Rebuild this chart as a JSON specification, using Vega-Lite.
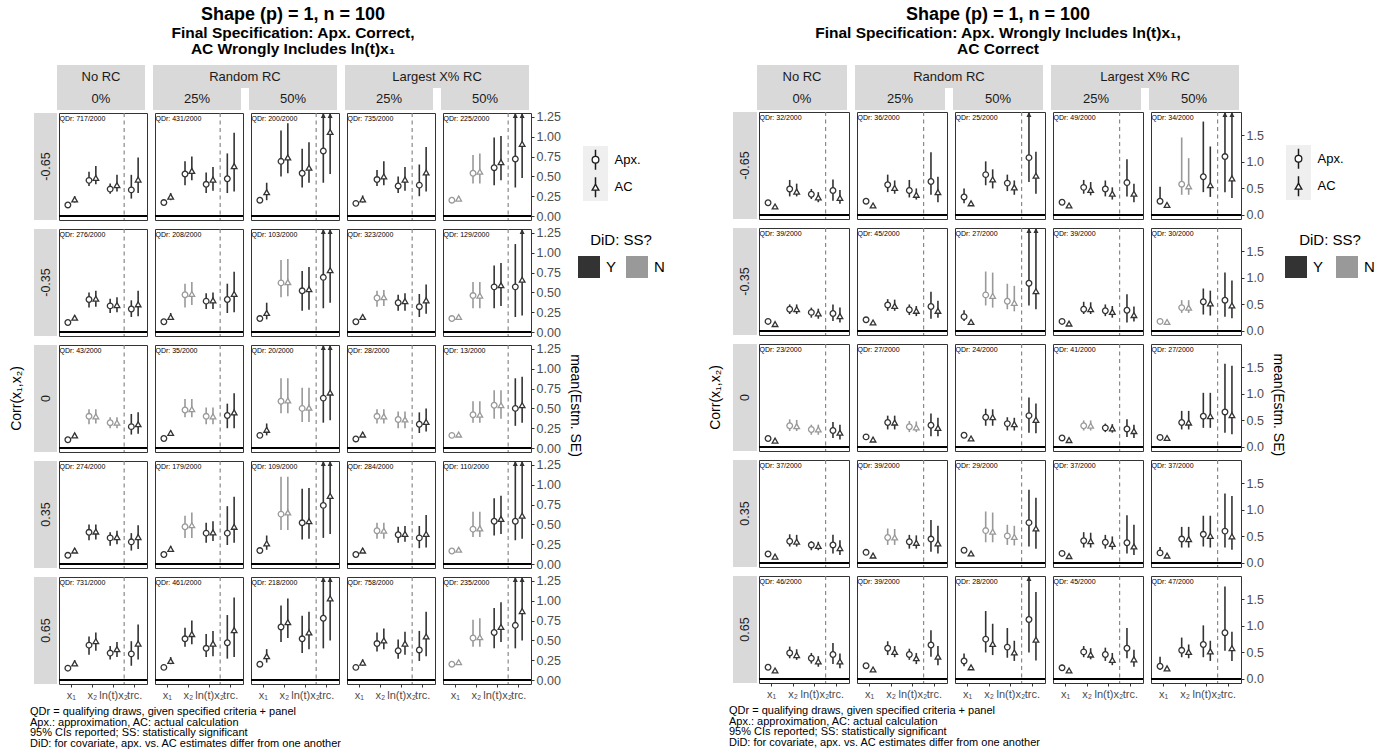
{
"$schema": "https://vega.github.io/schema/vega-lite/v6.json",
"padding": {"left": 9, "top": 5, "right": 2, "bottom": 2},
"background": "white",
"config": {
  "font": "Liberation Sans",
  "view": {"stroke": null},
  "title": {"font": "Liberation Sans", "color": "black", "subtitleFont": "Liberation Sans", "subtitleColor": "black"},
  "axis": {"labelFont": "Liberation Sans", "titleFont": "Liberation Sans"},
  "legend": {"labelFont": "Liberation Sans", "titleFont": "Liberation Sans", "padding": 0},
  "text": {"font": "Liberation Sans"}
},
"datasets": {
"L": [
{"r":"-0.65","c":"n0","v":"x1","e":"Apx.","m":0.14,"lo":0.12,"hi":0.16,"s":"Y","q":"QDr: 717/2000"},
{"r":"-0.65","c":"n0","v":"x1","e":"AC","m":0.21,"lo":0.17,"hi":0.25,"s":"Y"},
{"r":"-0.65","c":"n0","v":"x2","e":"Apx.","m":0.45,"lo":0.38,"hi":0.56,"s":"Y"},
{"r":"-0.65","c":"n0","v":"x2","e":"AC","m":0.48,"lo":0.40,"hi":0.63,"s":"Y"},
{"r":"-0.65","c":"n0","v":"ltx2","e":"Apx.","m":0.34,"lo":0.28,"hi":0.41,"s":"Y"},
{"r":"-0.65","c":"n0","v":"ltx2","e":"AC","m":0.39,"lo":0.31,"hi":0.52,"s":"Y"},
{"r":"-0.65","c":"n0","v":"trc","e":"Apx.","m":0.33,"lo":0.22,"hi":0.52,"s":"Y"},
{"r":"-0.65","c":"n0","v":"trc","e":"AC","m":0.46,"lo":0.29,"hi":0.74,"s":"Y"},
{"r":"-0.65","c":"r25","v":"x1","e":"Apx.","m":0.17,"lo":0.15,"hi":0.19,"s":"Y","q":"QDr: 431/2000"},
{"r":"-0.65","c":"r25","v":"x1","e":"AC","m":0.245,"lo":0.20,"hi":0.29,"s":"Y"},
{"r":"-0.65","c":"r25","v":"x2","e":"Apx.","m":0.53,"lo":0.39,"hi":0.69,"s":"Y"},
{"r":"-0.65","c":"r25","v":"x2","e":"AC","m":0.57,"lo":0.45,"hi":0.75,"s":"Y"},
{"r":"-0.65","c":"r25","v":"ltx2","e":"Apx.","m":0.40,"lo":0.29,"hi":0.55,"s":"Y"},
{"r":"-0.65","c":"r25","v":"ltx2","e":"AC","m":0.46,"lo":0.32,"hi":0.62,"s":"Y"},
{"r":"-0.65","c":"r25","v":"trc","e":"Apx.","m":0.47,"lo":0.29,"hi":0.79,"s":"Y"},
{"r":"-0.65","c":"r25","v":"trc","e":"AC","m":0.63,"lo":0.31,"hi":1.05,"s":"Y"},
{"r":"-0.65","c":"r50","v":"x1","e":"Apx.","m":0.20,"lo":0.17,"hi":0.23,"s":"Y","q":"QDr: 200/2000"},
{"r":"-0.65","c":"r50","v":"x1","e":"AC","m":0.30,"lo":0.20,"hi":0.42,"s":"Y"},
{"r":"-0.65","c":"r50","v":"x2","e":"Apx.","m":0.69,"lo":0.50,"hi":1.08,"s":"Y"},
{"r":"-0.65","c":"r50","v":"x2","e":"AC","m":0.74,"lo":0.54,"hi":1.17,"s":"Y"},
{"r":"-0.65","c":"r50","v":"ltx2","e":"Apx.","m":0.54,"lo":0.36,"hi":0.85,"s":"Y"},
{"r":"-0.65","c":"r50","v":"ltx2","e":"AC","m":0.61,"lo":0.42,"hi":0.93,"s":"Y"},
{"r":"-0.65","c":"r50","v":"trc","e":"Apx.","m":0.82,"lo":0.42,"hi":1.45,"s":"Y"},
{"r":"-0.65","c":"r50","v":"trc","e":"AC","m":1.06,"lo":0.53,"hi":1.45,"s":"Y"},
{"r":"-0.65","c":"l25","v":"x1","e":"Apx.","m":0.16,"lo":0.14,"hi":0.18,"s":"Y","q":"QDr: 735/2000"},
{"r":"-0.65","c":"l25","v":"x1","e":"AC","m":0.21,"lo":0.17,"hi":0.26,"s":"Y"},
{"r":"-0.65","c":"l25","v":"x2","e":"Apx.","m":0.46,"lo":0.38,"hi":0.58,"s":"Y"},
{"r":"-0.65","c":"l25","v":"x2","e":"AC","m":0.50,"lo":0.39,"hi":0.69,"s":"Y"},
{"r":"-0.65","c":"l25","v":"ltx2","e":"Apx.","m":0.38,"lo":0.29,"hi":0.50,"s":"Y"},
{"r":"-0.65","c":"l25","v":"ltx2","e":"AC","m":0.46,"lo":0.32,"hi":0.62,"s":"Y"},
{"r":"-0.65","c":"l25","v":"trc","e":"Apx.","m":0.39,"lo":0.25,"hi":0.65,"s":"Y"},
{"r":"-0.65","c":"l25","v":"trc","e":"AC","m":0.55,"lo":0.31,"hi":0.87,"s":"Y"},
{"r":"-0.65","c":"l50","v":"x1","e":"Apx.","m":0.20,"lo":0.18,"hi":0.22,"s":"N","q":"QDr: 225/2000"},
{"r":"-0.65","c":"l50","v":"x1","e":"AC","m":0.22,"lo":0.20,"hi":0.25,"s":"N"},
{"r":"-0.65","c":"l50","v":"x2","e":"Apx.","m":0.54,"lo":0.41,"hi":0.77,"s":"N"},
{"r":"-0.65","c":"l50","v":"x2","e":"AC","m":0.56,"lo":0.41,"hi":0.79,"s":"N"},
{"r":"-0.65","c":"l50","v":"ltx2","e":"Apx.","m":0.61,"lo":0.39,"hi":0.99,"s":"Y"},
{"r":"-0.65","c":"l50","v":"ltx2","e":"AC","m":0.68,"lo":0.45,"hi":1.01,"s":"Y"},
{"r":"-0.65","c":"l50","v":"trc","e":"Apx.","m":0.72,"lo":0.36,"hi":1.45,"s":"Y"},
{"r":"-0.65","c":"l50","v":"trc","e":"AC","m":0.91,"lo":0.48,"hi":1.45,"s":"Y"},
{"r":"-0.35","c":"n0","v":"x1","e":"Apx.","m":0.12,"lo":0.10,"hi":0.14,"s":"Y","q":"QDr: 276/2000"},
{"r":"-0.35","c":"n0","v":"x1","e":"AC","m":0.18,"lo":0.15,"hi":0.21,"s":"Y"},
{"r":"-0.35","c":"n0","v":"x2","e":"Apx.","m":0.41,"lo":0.31,"hi":0.50,"s":"Y"},
{"r":"-0.35","c":"n0","v":"x2","e":"AC","m":0.42,"lo":0.32,"hi":0.52,"s":"Y"},
{"r":"-0.35","c":"n0","v":"ltx2","e":"Apx.","m":0.33,"lo":0.24,"hi":0.42,"s":"Y"},
{"r":"-0.35","c":"n0","v":"ltx2","e":"AC","m":0.34,"lo":0.25,"hi":0.44,"s":"Y"},
{"r":"-0.35","c":"n0","v":"trc","e":"Apx.","m":0.29,"lo":0.19,"hi":0.40,"s":"Y"},
{"r":"-0.35","c":"n0","v":"trc","e":"AC","m":0.35,"lo":0.20,"hi":0.52,"s":"Y"},
{"r":"-0.35","c":"r25","v":"x1","e":"Apx.","m":0.13,"lo":0.11,"hi":0.15,"s":"Y","q":"QDr: 208/2000"},
{"r":"-0.35","c":"r25","v":"x1","e":"AC","m":0.19,"lo":0.16,"hi":0.24,"s":"Y"},
{"r":"-0.35","c":"r25","v":"x2","e":"Apx.","m":0.47,"lo":0.31,"hi":0.61,"s":"N"},
{"r":"-0.35","c":"r25","v":"x2","e":"AC","m":0.48,"lo":0.34,"hi":0.63,"s":"N"},
{"r":"-0.35","c":"r25","v":"ltx2","e":"Apx.","m":0.39,"lo":0.29,"hi":0.49,"s":"Y"},
{"r":"-0.35","c":"r25","v":"ltx2","e":"AC","m":0.40,"lo":0.29,"hi":0.50,"s":"Y"},
{"r":"-0.35","c":"r25","v":"trc","e":"Apx.","m":0.41,"lo":0.24,"hi":0.61,"s":"Y"},
{"r":"-0.35","c":"r25","v":"trc","e":"AC","m":0.48,"lo":0.25,"hi":0.76,"s":"Y"},
{"r":"-0.35","c":"r50","v":"x1","e":"Apx.","m":0.17,"lo":0.15,"hi":0.19,"s":"Y","q":"QDr: 103/2000"},
{"r":"-0.35","c":"r50","v":"x1","e":"AC","m":0.24,"lo":0.16,"hi":0.37,"s":"Y"},
{"r":"-0.35","c":"r50","v":"x2","e":"Apx.","m":0.62,"lo":0.44,"hi":0.91,"s":"N"},
{"r":"-0.35","c":"r50","v":"x2","e":"AC","m":0.63,"lo":0.45,"hi":0.92,"s":"N"},
{"r":"-0.35","c":"r50","v":"ltx2","e":"Apx.","m":0.52,"lo":0.27,"hi":0.77,"s":"Y"},
{"r":"-0.35","c":"r50","v":"ltx2","e":"AC","m":0.54,"lo":0.28,"hi":0.82,"s":"Y"},
{"r":"-0.35","c":"r50","v":"trc","e":"Apx.","m":0.69,"lo":0.30,"hi":1.45,"s":"Y"},
{"r":"-0.35","c":"r50","v":"trc","e":"AC","m":0.78,"lo":0.37,"hi":1.45,"s":"Y"},
{"r":"-0.35","c":"l25","v":"x1","e":"Apx.","m":0.13,"lo":0.11,"hi":0.15,"s":"Y","q":"QDr: 323/2000"},
{"r":"-0.35","c":"l25","v":"x1","e":"AC","m":0.19,"lo":0.16,"hi":0.22,"s":"Y"},
{"r":"-0.35","c":"l25","v":"x2","e":"Apx.","m":0.43,"lo":0.32,"hi":0.52,"s":"N"},
{"r":"-0.35","c":"l25","v":"x2","e":"AC","m":0.44,"lo":0.33,"hi":0.53,"s":"N"},
{"r":"-0.35","c":"l25","v":"ltx2","e":"Apx.","m":0.37,"lo":0.27,"hi":0.47,"s":"Y"},
{"r":"-0.35","c":"l25","v":"ltx2","e":"AC","m":0.39,"lo":0.27,"hi":0.49,"s":"Y"},
{"r":"-0.35","c":"l25","v":"trc","e":"Apx.","m":0.32,"lo":0.19,"hi":0.48,"s":"Y"},
{"r":"-0.35","c":"l25","v":"trc","e":"AC","m":0.40,"lo":0.23,"hi":0.60,"s":"Y"},
{"r":"-0.35","c":"l50","v":"x1","e":"Apx.","m":0.17,"lo":0.15,"hi":0.19,"s":"N","q":"QDr: 129/2000"},
{"r":"-0.35","c":"l50","v":"x1","e":"AC","m":0.19,"lo":0.17,"hi":0.21,"s":"N"},
{"r":"-0.35","c":"l50","v":"x2","e":"Apx.","m":0.46,"lo":0.30,"hi":0.63,"s":"N"},
{"r":"-0.35","c":"l50","v":"x2","e":"AC","m":0.46,"lo":0.30,"hi":0.63,"s":"N"},
{"r":"-0.35","c":"l50","v":"ltx2","e":"Apx.","m":0.57,"lo":0.30,"hi":0.84,"s":"Y"},
{"r":"-0.35","c":"l50","v":"ltx2","e":"AC","m":0.59,"lo":0.33,"hi":0.87,"s":"Y"},
{"r":"-0.35","c":"l50","v":"trc","e":"Apx.","m":0.57,"lo":0.19,"hi":1.11,"s":"Y"},
{"r":"-0.35","c":"l50","v":"trc","e":"AC","m":0.66,"lo":0.21,"hi":1.45,"s":"Y"},
{"r":"0","c":"n0","v":"x1","e":"Apx.","m":0.105,"lo":0.09,"hi":0.12,"s":"Y","q":"QDr: 43/2000"},
{"r":"0","c":"n0","v":"x1","e":"AC","m":0.16,"lo":0.14,"hi":0.19,"s":"Y"},
{"r":"0","c":"n0","v":"x2","e":"Apx.","m":0.40,"lo":0.30,"hi":0.49,"s":"N"},
{"r":"0","c":"n0","v":"x2","e":"AC","m":0.40,"lo":0.31,"hi":0.49,"s":"N"},
{"r":"0","c":"n0","v":"ltx2","e":"Apx.","m":0.32,"lo":0.25,"hi":0.39,"s":"N"},
{"r":"0","c":"n0","v":"ltx2","e":"AC","m":0.32,"lo":0.25,"hi":0.39,"s":"N"},
{"r":"0","c":"n0","v":"trc","e":"Apx.","m":0.27,"lo":0.17,"hi":0.43,"s":"Y"},
{"r":"0","c":"n0","v":"trc","e":"AC","m":0.30,"lo":0.18,"hi":0.45,"s":"Y"},
{"r":"0","c":"r25","v":"x1","e":"Apx.","m":0.12,"lo":0.10,"hi":0.14,"s":"Y","q":"QDr: 35/2000"},
{"r":"0","c":"r25","v":"x1","e":"AC","m":0.19,"lo":0.16,"hi":0.22,"s":"Y"},
{"r":"0","c":"r25","v":"x2","e":"Apx.","m":0.48,"lo":0.39,"hi":0.62,"s":"N"},
{"r":"0","c":"r25","v":"x2","e":"AC","m":0.49,"lo":0.39,"hi":0.62,"s":"N"},
{"r":"0","c":"r25","v":"ltx2","e":"Apx.","m":0.40,"lo":0.30,"hi":0.51,"s":"N"},
{"r":"0","c":"r25","v":"ltx2","e":"AC","m":0.40,"lo":0.30,"hi":0.51,"s":"N"},
{"r":"0","c":"r25","v":"trc","e":"Apx.","m":0.41,"lo":0.25,"hi":0.56,"s":"Y"},
{"r":"0","c":"r25","v":"trc","e":"AC","m":0.45,"lo":0.25,"hi":0.69,"s":"Y"},
{"r":"0","c":"r50","v":"x1","e":"Apx.","m":0.16,"lo":0.14,"hi":0.18,"s":"Y","q":"QDr: 20/2000"},
{"r":"0","c":"r50","v":"x1","e":"AC","m":0.23,"lo":0.16,"hi":0.31,"s":"Y"},
{"r":"0","c":"r50","v":"x2","e":"Apx.","m":0.59,"lo":0.44,"hi":0.88,"s":"N"},
{"r":"0","c":"r50","v":"x2","e":"AC","m":0.60,"lo":0.44,"hi":0.88,"s":"N"},
{"r":"0","c":"r50","v":"ltx2","e":"Apx.","m":0.50,"lo":0.33,"hi":0.76,"s":"N"},
{"r":"0","c":"r50","v":"ltx2","e":"AC","m":0.51,"lo":0.33,"hi":0.76,"s":"N"},
{"r":"0","c":"r50","v":"trc","e":"Apx.","m":0.63,"lo":0.32,"hi":1.45,"s":"Y"},
{"r":"0","c":"r50","v":"trc","e":"AC","m":0.70,"lo":0.35,"hi":1.45,"s":"Y"},
{"r":"0","c":"l25","v":"x1","e":"Apx.","m":0.115,"lo":0.10,"hi":0.13,"s":"Y","q":"QDr: 28/2000"},
{"r":"0","c":"l25","v":"x1","e":"AC","m":0.17,"lo":0.14,"hi":0.20,"s":"Y"},
{"r":"0","c":"l25","v":"x2","e":"Apx.","m":0.40,"lo":0.31,"hi":0.49,"s":"N"},
{"r":"0","c":"l25","v":"x2","e":"AC","m":0.40,"lo":0.31,"hi":0.49,"s":"N"},
{"r":"0","c":"l25","v":"ltx2","e":"Apx.","m":0.36,"lo":0.25,"hi":0.46,"s":"N"},
{"r":"0","c":"l25","v":"ltx2","e":"AC","m":0.36,"lo":0.25,"hi":0.46,"s":"N"},
{"r":"0","c":"l25","v":"trc","e":"Apx.","m":0.30,"lo":0.19,"hi":0.45,"s":"Y"},
{"r":"0","c":"l25","v":"trc","e":"AC","m":0.33,"lo":0.21,"hi":0.50,"s":"Y"},
{"r":"0","c":"l50","v":"x1","e":"Apx.","m":0.16,"lo":0.14,"hi":0.17,"s":"N","q":"QDr: 13/2000"},
{"r":"0","c":"l50","v":"x1","e":"AC","m":0.17,"lo":0.15,"hi":0.19,"s":"N"},
{"r":"0","c":"l50","v":"x2","e":"Apx.","m":0.42,"lo":0.32,"hi":0.59,"s":"N"},
{"r":"0","c":"l50","v":"x2","e":"AC","m":0.42,"lo":0.32,"hi":0.59,"s":"N"},
{"r":"0","c":"l50","v":"ltx2","e":"Apx.","m":0.54,"lo":0.37,"hi":0.73,"s":"N"},
{"r":"0","c":"l50","v":"ltx2","e":"AC","m":0.54,"lo":0.37,"hi":0.73,"s":"N"},
{"r":"0","c":"l50","v":"trc","e":"Apx.","m":0.50,"lo":0.28,"hi":0.88,"s":"Y"},
{"r":"0","c":"l50","v":"trc","e":"AC","m":0.54,"lo":0.32,"hi":0.90,"s":"Y"},
{"r":"0.35","c":"n0","v":"x1","e":"Apx.","m":0.11,"lo":0.09,"hi":0.13,"s":"Y","q":"QDr: 274/2000"},
{"r":"0.35","c":"n0","v":"x1","e":"AC","m":0.17,"lo":0.14,"hi":0.20,"s":"Y"},
{"r":"0.35","c":"n0","v":"x2","e":"Apx.","m":0.40,"lo":0.30,"hi":0.50,"s":"Y"},
{"r":"0.35","c":"n0","v":"x2","e":"AC","m":0.41,"lo":0.31,"hi":0.50,"s":"Y"},
{"r":"0.35","c":"n0","v":"ltx2","e":"Apx.","m":0.33,"lo":0.23,"hi":0.40,"s":"Y"},
{"r":"0.35","c":"n0","v":"ltx2","e":"AC","m":0.34,"lo":0.25,"hi":0.42,"s":"Y"},
{"r":"0.35","c":"n0","v":"trc","e":"Apx.","m":0.28,"lo":0.17,"hi":0.39,"s":"Y"},
{"r":"0.35","c":"n0","v":"trc","e":"AC","m":0.34,"lo":0.19,"hi":0.49,"s":"Y"},
{"r":"0.35","c":"r25","v":"x1","e":"Apx.","m":0.12,"lo":0.10,"hi":0.14,"s":"Y","q":"QDr: 179/2000"},
{"r":"0.35","c":"r25","v":"x1","e":"AC","m":0.19,"lo":0.16,"hi":0.23,"s":"Y"},
{"r":"0.35","c":"r25","v":"x2","e":"Apx.","m":0.47,"lo":0.33,"hi":0.61,"s":"N"},
{"r":"0.35","c":"r25","v":"x2","e":"AC","m":0.49,"lo":0.33,"hi":0.65,"s":"N"},
{"r":"0.35","c":"r25","v":"ltx2","e":"Apx.","m":0.39,"lo":0.27,"hi":0.52,"s":"Y"},
{"r":"0.35","c":"r25","v":"ltx2","e":"AC","m":0.40,"lo":0.29,"hi":0.54,"s":"Y"},
{"r":"0.35","c":"r25","v":"trc","e":"Apx.","m":0.39,"lo":0.24,"hi":0.73,"s":"Y"},
{"r":"0.35","c":"r25","v":"trc","e":"AC","m":0.47,"lo":0.27,"hi":0.85,"s":"Y"},
{"r":"0.35","c":"r50","v":"x1","e":"Apx.","m":0.17,"lo":0.15,"hi":0.19,"s":"Y","q":"QDr: 109/2000"},
{"r":"0.35","c":"r50","v":"x1","e":"AC","m":0.26,"lo":0.18,"hi":0.36,"s":"Y"},
{"r":"0.35","c":"r50","v":"x2","e":"Apx.","m":0.63,"lo":0.43,"hi":1.10,"s":"N"},
{"r":"0.35","c":"r50","v":"x2","e":"AC","m":0.65,"lo":0.43,"hi":1.10,"s":"N"},
{"r":"0.35","c":"r50","v":"ltx2","e":"Apx.","m":0.52,"lo":0.31,"hi":0.95,"s":"Y"},
{"r":"0.35","c":"r50","v":"ltx2","e":"AC","m":0.54,"lo":0.32,"hi":0.96,"s":"Y"},
{"r":"0.35","c":"r50","v":"trc","e":"Apx.","m":0.74,"lo":0.33,"hi":1.45,"s":"Y"},
{"r":"0.35","c":"r50","v":"trc","e":"AC","m":0.86,"lo":0.38,"hi":1.45,"s":"Y"},
{"r":"0.35","c":"l25","v":"x1","e":"Apx.","m":0.12,"lo":0.10,"hi":0.14,"s":"Y","q":"QDr: 284/2000"},
{"r":"0.35","c":"l25","v":"x1","e":"AC","m":0.17,"lo":0.14,"hi":0.20,"s":"Y"},
{"r":"0.35","c":"l25","v":"x2","e":"Apx.","m":0.42,"lo":0.32,"hi":0.52,"s":"N"},
{"r":"0.35","c":"l25","v":"x2","e":"AC","m":0.42,"lo":0.32,"hi":0.52,"s":"N"},
{"r":"0.35","c":"l25","v":"ltx2","e":"Apx.","m":0.37,"lo":0.27,"hi":0.47,"s":"Y"},
{"r":"0.35","c":"l25","v":"ltx2","e":"AC","m":0.38,"lo":0.28,"hi":0.48,"s":"Y"},
{"r":"0.35","c":"l25","v":"trc","e":"Apx.","m":0.33,"lo":0.20,"hi":0.48,"s":"Y"},
{"r":"0.35","c":"l25","v":"trc","e":"AC","m":0.38,"lo":0.21,"hi":0.62,"s":"Y"},
{"r":"0.35","c":"l50","v":"x1","e":"Apx.","m":0.165,"lo":0.15,"hi":0.18,"s":"N","q":"QDr: 110/2000"},
{"r":"0.35","c":"l50","v":"x1","e":"AC","m":0.18,"lo":0.16,"hi":0.20,"s":"N"},
{"r":"0.35","c":"l50","v":"x2","e":"Apx.","m":0.44,"lo":0.34,"hi":0.66,"s":"N"},
{"r":"0.35","c":"l50","v":"x2","e":"AC","m":0.45,"lo":0.34,"hi":0.66,"s":"N"},
{"r":"0.35","c":"l50","v":"ltx2","e":"Apx.","m":0.54,"lo":0.36,"hi":0.83,"s":"Y"},
{"r":"0.35","c":"l50","v":"ltx2","e":"AC","m":0.57,"lo":0.38,"hi":0.86,"s":"Y"},
{"r":"0.35","c":"l50","v":"trc","e":"Apx.","m":0.54,"lo":0.30,"hi":1.45,"s":"Y"},
{"r":"0.35","c":"l50","v":"trc","e":"AC","m":0.61,"lo":0.32,"hi":1.45,"s":"Y"},
{"r":"0.65","c":"n0","v":"x1","e":"Apx.","m":0.15,"lo":0.13,"hi":0.17,"s":"Y","q":"QDr: 731/2000"},
{"r":"0.65","c":"n0","v":"x1","e":"AC","m":0.21,"lo":0.18,"hi":0.25,"s":"Y"},
{"r":"0.65","c":"n0","v":"x2","e":"Apx.","m":0.44,"lo":0.32,"hi":0.55,"s":"Y"},
{"r":"0.65","c":"n0","v":"x2","e":"AC","m":0.49,"lo":0.37,"hi":0.60,"s":"Y"},
{"r":"0.65","c":"n0","v":"ltx2","e":"Apx.","m":0.34,"lo":0.26,"hi":0.43,"s":"Y"},
{"r":"0.65","c":"n0","v":"ltx2","e":"AC","m":0.39,"lo":0.29,"hi":0.48,"s":"Y"},
{"r":"0.65","c":"n0","v":"trc","e":"Apx.","m":0.33,"lo":0.18,"hi":0.49,"s":"Y"},
{"r":"0.65","c":"n0","v":"trc","e":"AC","m":0.46,"lo":0.26,"hi":0.70,"s":"Y"},
{"r":"0.65","c":"r25","v":"x1","e":"Apx.","m":0.16,"lo":0.14,"hi":0.18,"s":"Y","q":"QDr: 461/2000"},
{"r":"0.65","c":"r25","v":"x1","e":"AC","m":0.24,"lo":0.20,"hi":0.29,"s":"Y"},
{"r":"0.65","c":"r25","v":"x2","e":"Apx.","m":0.52,"lo":0.42,"hi":0.66,"s":"Y"},
{"r":"0.65","c":"r25","v":"x2","e":"AC","m":0.58,"lo":0.45,"hi":0.75,"s":"Y"},
{"r":"0.65","c":"r25","v":"ltx2","e":"Apx.","m":0.40,"lo":0.29,"hi":0.58,"s":"Y"},
{"r":"0.65","c":"r25","v":"ltx2","e":"AC","m":0.46,"lo":0.30,"hi":0.62,"s":"Y"},
{"r":"0.65","c":"r25","v":"trc","e":"Apx.","m":0.47,"lo":0.27,"hi":0.82,"s":"Y"},
{"r":"0.65","c":"r25","v":"trc","e":"AC","m":0.63,"lo":0.29,"hi":1.04,"s":"Y"},
{"r":"0.65","c":"r50","v":"x1","e":"Apx.","m":0.20,"lo":0.18,"hi":0.22,"s":"Y","q":"QDr: 218/2000"},
{"r":"0.65","c":"r50","v":"x1","e":"AC","m":0.30,"lo":0.22,"hi":0.39,"s":"Y"},
{"r":"0.65","c":"r50","v":"x2","e":"Apx.","m":0.67,"lo":0.48,"hi":0.94,"s":"Y"},
{"r":"0.65","c":"r50","v":"x2","e":"AC","m":0.73,"lo":0.53,"hi":1.03,"s":"Y"},
{"r":"0.65","c":"r50","v":"ltx2","e":"Apx.","m":0.52,"lo":0.34,"hi":0.81,"s":"Y"},
{"r":"0.65","c":"r50","v":"ltx2","e":"AC","m":0.60,"lo":0.39,"hi":0.86,"s":"Y"},
{"r":"0.65","c":"r50","v":"trc","e":"Apx.","m":0.78,"lo":0.40,"hi":1.45,"s":"Y"},
{"r":"0.65","c":"r50","v":"trc","e":"AC","m":1.03,"lo":0.50,"hi":1.45,"s":"Y"},
{"r":"0.65","c":"l25","v":"x1","e":"Apx.","m":0.16,"lo":0.14,"hi":0.18,"s":"Y","q":"QDr: 758/2000"},
{"r":"0.65","c":"l25","v":"x1","e":"AC","m":0.22,"lo":0.18,"hi":0.26,"s":"Y"},
{"r":"0.65","c":"l25","v":"x2","e":"Apx.","m":0.46,"lo":0.36,"hi":0.60,"s":"Y"},
{"r":"0.65","c":"l25","v":"x2","e":"AC","m":0.50,"lo":0.39,"hi":0.65,"s":"Y"},
{"r":"0.65","c":"l25","v":"ltx2","e":"Apx.","m":0.37,"lo":0.27,"hi":0.51,"s":"Y"},
{"r":"0.65","c":"l25","v":"ltx2","e":"AC","m":0.46,"lo":0.32,"hi":0.61,"s":"Y"},
{"r":"0.65","c":"l25","v":"trc","e":"Apx.","m":0.38,"lo":0.24,"hi":0.62,"s":"Y"},
{"r":"0.65","c":"l25","v":"trc","e":"AC","m":0.55,"lo":0.30,"hi":0.86,"s":"Y"},
{"r":"0.65","c":"l50","v":"x1","e":"Apx.","m":0.20,"lo":0.18,"hi":0.22,"s":"N","q":"QDr: 235/2000"},
{"r":"0.65","c":"l50","v":"x1","e":"AC","m":0.225,"lo":0.20,"hi":0.25,"s":"N"},
{"r":"0.65","c":"l50","v":"x2","e":"Apx.","m":0.53,"lo":0.42,"hi":0.76,"s":"N"},
{"r":"0.65","c":"l50","v":"x2","e":"AC","m":0.54,"lo":0.42,"hi":0.78,"s":"N"},
{"r":"0.65","c":"l50","v":"ltx2","e":"Apx.","m":0.60,"lo":0.40,"hi":0.91,"s":"Y"},
{"r":"0.65","c":"l50","v":"ltx2","e":"AC","m":0.67,"lo":0.48,"hi":0.98,"s":"Y"},
{"r":"0.65","c":"l50","v":"trc","e":"Apx.","m":0.69,"lo":0.40,"hi":1.45,"s":"Y"},
{"r":"0.65","c":"l50","v":"trc","e":"AC","m":0.87,"lo":0.50,"hi":1.45,"s":"Y"}
],
"R": [
{"r":"-0.65","c":"n0","v":"x1","e":"Apx.","m":0.23,"lo":0.19,"hi":0.27,"s":"Y","q":"QDr: 32/2000"},
{"r":"-0.65","c":"n0","v":"x1","e":"AC","m":0.16,"lo":0.14,"hi":0.18,"s":"Y"},
{"r":"-0.65","c":"n0","v":"x2","e":"Apx.","m":0.49,"lo":0.35,"hi":0.66,"s":"Y"},
{"r":"-0.65","c":"n0","v":"x2","e":"AC","m":0.44,"lo":0.35,"hi":0.59,"s":"Y"},
{"r":"-0.65","c":"n0","v":"ltx2","e":"Apx.","m":0.39,"lo":0.30,"hi":0.49,"s":"Y"},
{"r":"-0.65","c":"n0","v":"ltx2","e":"AC","m":0.33,"lo":0.24,"hi":0.43,"s":"Y"},
{"r":"-0.65","c":"n0","v":"trc","e":"Apx.","m":0.46,"lo":0.27,"hi":0.67,"s":"Y"},
{"r":"-0.65","c":"n0","v":"trc","e":"AC","m":0.32,"lo":0.21,"hi":0.47,"s":"Y"},
{"r":"-0.65","c":"r25","v":"x1","e":"Apx.","m":0.26,"lo":0.21,"hi":0.31,"s":"Y","q":"QDr: 36/2000"},
{"r":"-0.65","c":"r25","v":"x1","e":"AC","m":0.18,"lo":0.16,"hi":0.20,"s":"Y"},
{"r":"-0.65","c":"r25","v":"x2","e":"Apx.","m":0.57,"lo":0.43,"hi":0.76,"s":"Y"},
{"r":"-0.65","c":"r25","v":"x2","e":"AC","m":0.51,"lo":0.40,"hi":0.65,"s":"Y"},
{"r":"-0.65","c":"r25","v":"ltx2","e":"Apx.","m":0.46,"lo":0.33,"hi":0.66,"s":"Y"},
{"r":"-0.65","c":"r25","v":"ltx2","e":"AC","m":0.38,"lo":0.29,"hi":0.50,"s":"Y"},
{"r":"-0.65","c":"r25","v":"trc","e":"Apx.","m":0.63,"lo":0.38,"hi":1.18,"s":"Y"},
{"r":"-0.65","c":"r25","v":"trc","e":"AC","m":0.43,"lo":0.24,"hi":0.72,"s":"Y"},
{"r":"-0.65","c":"r50","v":"x1","e":"Apx.","m":0.34,"lo":0.22,"hi":0.50,"s":"Y","q":"QDr: 25/2000"},
{"r":"-0.65","c":"r50","v":"x1","e":"AC","m":0.22,"lo":0.20,"hi":0.24,"s":"Y"},
{"r":"-0.65","c":"r50","v":"x2","e":"Apx.","m":0.76,"lo":0.56,"hi":1.01,"s":"Y"},
{"r":"-0.65","c":"r50","v":"x2","e":"AC","m":0.67,"lo":0.50,"hi":0.86,"s":"Y"},
{"r":"-0.65","c":"r50","v":"ltx2","e":"Apx.","m":0.60,"lo":0.45,"hi":0.76,"s":"Y"},
{"r":"-0.65","c":"r50","v":"ltx2","e":"AC","m":0.52,"lo":0.38,"hi":0.65,"s":"Y"},
{"r":"-0.65","c":"r50","v":"trc","e":"Apx.","m":1.08,"lo":0.62,"hi":2.1,"s":"Y"},
{"r":"-0.65","c":"r50","v":"trc","e":"AC","m":0.74,"lo":0.40,"hi":1.19,"s":"Y"},
{"r":"-0.65","c":"l25","v":"x1","e":"Apx.","m":0.24,"lo":0.19,"hi":0.30,"s":"Y","q":"QDr: 49/2000"},
{"r":"-0.65","c":"l25","v":"x1","e":"AC","m":0.18,"lo":0.16,"hi":0.20,"s":"Y"},
{"r":"-0.65","c":"l25","v":"x2","e":"Apx.","m":0.52,"lo":0.40,"hi":0.66,"s":"Y"},
{"r":"-0.65","c":"l25","v":"x2","e":"AC","m":0.47,"lo":0.37,"hi":0.62,"s":"Y"},
{"r":"-0.65","c":"l25","v":"ltx2","e":"Apx.","m":0.49,"lo":0.35,"hi":0.65,"s":"Y"},
{"r":"-0.65","c":"l25","v":"ltx2","e":"AC","m":0.40,"lo":0.29,"hi":0.52,"s":"Y"},
{"r":"-0.65","c":"l25","v":"trc","e":"Apx.","m":0.61,"lo":0.35,"hi":1.05,"s":"Y"},
{"r":"-0.65","c":"l25","v":"trc","e":"AC","m":0.40,"lo":0.24,"hi":0.59,"s":"Y"},
{"r":"-0.65","c":"l50","v":"x1","e":"Apx.","m":0.26,"lo":0.21,"hi":0.53,"s":"Y","q":"QDr: 34/2000"},
{"r":"-0.65","c":"l50","v":"x1","e":"AC","m":0.19,"lo":0.17,"hi":0.21,"s":"Y"},
{"r":"-0.65","c":"l50","v":"x2","e":"Apx.","m":0.58,"lo":0.38,"hi":1.46,"s":"N"},
{"r":"-0.65","c":"l50","v":"x2","e":"AC","m":0.54,"lo":0.38,"hi":1.07,"s":"N"},
{"r":"-0.65","c":"l50","v":"ltx2","e":"Apx.","m":0.72,"lo":0.43,"hi":1.76,"s":"Y"},
{"r":"-0.65","c":"l50","v":"ltx2","e":"AC","m":0.56,"lo":0.34,"hi":1.29,"s":"Y"},
{"r":"-0.65","c":"l50","v":"trc","e":"Apx.","m":1.10,"lo":0.43,"hi":2.1,"s":"Y"},
{"r":"-0.65","c":"l50","v":"trc","e":"AC","m":0.69,"lo":0.32,"hi":2.1,"s":"Y"},
{"r":"-0.35","c":"n0","v":"x1","e":"Apx.","m":0.18,"lo":0.15,"hi":0.21,"s":"Y","q":"QDr: 39/2000"},
{"r":"-0.35","c":"n0","v":"x1","e":"AC","m":0.13,"lo":0.11,"hi":0.15,"s":"Y"},
{"r":"-0.35","c":"n0","v":"x2","e":"Apx.","m":0.41,"lo":0.32,"hi":0.50,"s":"Y"},
{"r":"-0.35","c":"n0","v":"x2","e":"AC","m":0.41,"lo":0.32,"hi":0.50,"s":"Y"},
{"r":"-0.35","c":"n0","v":"ltx2","e":"Apx.","m":0.35,"lo":0.25,"hi":0.44,"s":"Y"},
{"r":"-0.35","c":"n0","v":"ltx2","e":"AC","m":0.33,"lo":0.23,"hi":0.42,"s":"Y"},
{"r":"-0.35","c":"n0","v":"trc","e":"Apx.","m":0.33,"lo":0.19,"hi":0.50,"s":"Y"},
{"r":"-0.35","c":"n0","v":"trc","e":"AC","m":0.28,"lo":0.16,"hi":0.44,"s":"Y"},
{"r":"-0.35","c":"r25","v":"x1","e":"Apx.","m":0.21,"lo":0.17,"hi":0.26,"s":"Y","q":"QDr: 45/2000"},
{"r":"-0.35","c":"r25","v":"x1","e":"AC","m":0.16,"lo":0.14,"hi":0.18,"s":"Y"},
{"r":"-0.35","c":"r25","v":"x2","e":"Apx.","m":0.49,"lo":0.38,"hi":0.60,"s":"Y"},
{"r":"-0.35","c":"r25","v":"x2","e":"AC","m":0.47,"lo":0.38,"hi":0.59,"s":"Y"},
{"r":"-0.35","c":"r25","v":"ltx2","e":"Apx.","m":0.40,"lo":0.30,"hi":0.50,"s":"Y"},
{"r":"-0.35","c":"r25","v":"ltx2","e":"AC","m":0.38,"lo":0.28,"hi":0.47,"s":"Y"},
{"r":"-0.35","c":"r25","v":"trc","e":"Apx.","m":0.46,"lo":0.23,"hi":0.74,"s":"Y"},
{"r":"-0.35","c":"r25","v":"trc","e":"AC","m":0.38,"lo":0.25,"hi":0.57,"s":"Y"},
{"r":"-0.35","c":"r50","v":"x1","e":"Apx.","m":0.27,"lo":0.19,"hi":0.39,"s":"Y","q":"QDr: 27/2000"},
{"r":"-0.35","c":"r50","v":"x1","e":"AC","m":0.17,"lo":0.15,"hi":0.19,"s":"Y"},
{"r":"-0.35","c":"r50","v":"x2","e":"Apx.","m":0.68,"lo":0.48,"hi":1.12,"s":"N"},
{"r":"-0.35","c":"r50","v":"x2","e":"AC","m":0.66,"lo":0.44,"hi":1.10,"s":"N"},
{"r":"-0.35","c":"r50","v":"ltx2","e":"Apx.","m":0.56,"lo":0.41,"hi":0.89,"s":"N"},
{"r":"-0.35","c":"r50","v":"ltx2","e":"AC","m":0.53,"lo":0.37,"hi":0.85,"s":"N"},
{"r":"-0.35","c":"r50","v":"trc","e":"Apx.","m":0.90,"lo":0.48,"hi":2.1,"s":"Y"},
{"r":"-0.35","c":"r50","v":"trc","e":"AC","m":0.75,"lo":0.41,"hi":2.1,"s":"Y"},
{"r":"-0.35","c":"l25","v":"x1","e":"Apx.","m":0.18,"lo":0.15,"hi":0.21,"s":"Y","q":"QDr: 39/2000"},
{"r":"-0.35","c":"l25","v":"x1","e":"AC","m":0.14,"lo":0.12,"hi":0.16,"s":"Y"},
{"r":"-0.35","c":"l25","v":"x2","e":"Apx.","m":0.41,"lo":0.32,"hi":0.55,"s":"Y"},
{"r":"-0.35","c":"l25","v":"x2","e":"AC","m":0.41,"lo":0.32,"hi":0.54,"s":"Y"},
{"r":"-0.35","c":"l25","v":"ltx2","e":"Apx.","m":0.38,"lo":0.28,"hi":0.50,"s":"Y"},
{"r":"-0.35","c":"l25","v":"ltx2","e":"AC","m":0.36,"lo":0.25,"hi":0.47,"s":"Y"},
{"r":"-0.35","c":"l25","v":"trc","e":"Apx.","m":0.39,"lo":0.16,"hi":0.69,"s":"Y"},
{"r":"-0.35","c":"l25","v":"trc","e":"AC","m":0.30,"lo":0.18,"hi":0.46,"s":"Y"},
{"r":"-0.35","c":"l50","v":"x1","e":"Apx.","m":0.18,"lo":0.16,"hi":0.20,"s":"N","q":"QDr: 30/2000"},
{"r":"-0.35","c":"l50","v":"x1","e":"AC","m":0.17,"lo":0.15,"hi":0.19,"s":"N"},
{"r":"-0.35","c":"l50","v":"x2","e":"Apx.","m":0.44,"lo":0.34,"hi":0.58,"s":"N"},
{"r":"-0.35","c":"l50","v":"x2","e":"AC","m":0.44,"lo":0.34,"hi":0.58,"s":"N"},
{"r":"-0.35","c":"l50","v":"ltx2","e":"Apx.","m":0.55,"lo":0.31,"hi":0.80,"s":"Y"},
{"r":"-0.35","c":"l50","v":"ltx2","e":"AC","m":0.52,"lo":0.29,"hi":0.76,"s":"Y"},
{"r":"-0.35","c":"l50","v":"trc","e":"Apx.","m":0.58,"lo":0.27,"hi":1.10,"s":"Y"},
{"r":"-0.35","c":"l50","v":"trc","e":"AC","m":0.48,"lo":0.24,"hi":0.95,"s":"Y"},
{"r":"0","c":"n0","v":"x1","e":"Apx.","m":0.16,"lo":0.13,"hi":0.19,"s":"Y","q":"QDr: 23/2000"},
{"r":"0","c":"n0","v":"x1","e":"AC","m":0.12,"lo":0.10,"hi":0.14,"s":"Y"},
{"r":"0","c":"n0","v":"x2","e":"Apx.","m":0.40,"lo":0.30,"hi":0.52,"s":"N"},
{"r":"0","c":"n0","v":"x2","e":"AC","m":0.39,"lo":0.30,"hi":0.51,"s":"N"},
{"r":"0","c":"n0","v":"ltx2","e":"Apx.","m":0.33,"lo":0.23,"hi":0.42,"s":"N"},
{"r":"0","c":"n0","v":"ltx2","e":"AC","m":0.33,"lo":0.23,"hi":0.42,"s":"N"},
{"r":"0","c":"n0","v":"trc","e":"Apx.","m":0.31,"lo":0.17,"hi":0.47,"s":"Y"},
{"r":"0","c":"n0","v":"trc","e":"AC","m":0.27,"lo":0.14,"hi":0.42,"s":"Y"},
{"r":"0","c":"r25","v":"x1","e":"Apx.","m":0.19,"lo":0.15,"hi":0.24,"s":"Y","q":"QDr: 27/2000"},
{"r":"0","c":"r25","v":"x1","e":"AC","m":0.14,"lo":0.12,"hi":0.16,"s":"Y"},
{"r":"0","c":"r25","v":"x2","e":"Apx.","m":0.46,"lo":0.33,"hi":0.59,"s":"Y"},
{"r":"0","c":"r25","v":"x2","e":"AC","m":0.46,"lo":0.33,"hi":0.59,"s":"Y"},
{"r":"0","c":"r25","v":"ltx2","e":"Apx.","m":0.38,"lo":0.28,"hi":0.49,"s":"N"},
{"r":"0","c":"r25","v":"ltx2","e":"AC","m":0.37,"lo":0.28,"hi":0.48,"s":"N"},
{"r":"0","c":"r25","v":"trc","e":"Apx.","m":0.41,"lo":0.20,"hi":0.63,"s":"Y"},
{"r":"0","c":"r25","v":"trc","e":"AC","m":0.36,"lo":0.20,"hi":0.55,"s":"Y"},
{"r":"0","c":"r50","v":"x1","e":"Apx.","m":0.22,"lo":0.18,"hi":0.28,"s":"Y","q":"QDr: 24/2000"},
{"r":"0","c":"r50","v":"x1","e":"AC","m":0.16,"lo":0.14,"hi":0.18,"s":"Y"},
{"r":"0","c":"r50","v":"x2","e":"Apx.","m":0.56,"lo":0.40,"hi":0.72,"s":"Y"},
{"r":"0","c":"r50","v":"x2","e":"AC","m":0.56,"lo":0.40,"hi":0.71,"s":"Y"},
{"r":"0","c":"r50","v":"ltx2","e":"Apx.","m":0.44,"lo":0.31,"hi":0.56,"s":"Y"},
{"r":"0","c":"r50","v":"ltx2","e":"AC","m":0.43,"lo":0.31,"hi":0.55,"s":"Y"},
{"r":"0","c":"r50","v":"trc","e":"Apx.","m":0.59,"lo":0.27,"hi":0.93,"s":"Y"},
{"r":"0","c":"r50","v":"trc","e":"AC","m":0.51,"lo":0.26,"hi":0.82,"s":"Y"},
{"r":"0","c":"l25","v":"x1","e":"Apx.","m":0.17,"lo":0.13,"hi":0.21,"s":"Y","q":"QDr: 41/2000"},
{"r":"0","c":"l25","v":"x1","e":"AC","m":0.13,"lo":0.11,"hi":0.15,"s":"Y"},
{"r":"0","c":"l25","v":"x2","e":"Apx.","m":0.40,"lo":0.31,"hi":0.50,"s":"N"},
{"r":"0","c":"l25","v":"x2","e":"AC","m":0.40,"lo":0.31,"hi":0.50,"s":"N"},
{"r":"0","c":"l25","v":"ltx2","e":"Apx.","m":0.36,"lo":0.28,"hi":0.44,"s":"Y"},
{"r":"0","c":"l25","v":"ltx2","e":"AC","m":0.35,"lo":0.27,"hi":0.43,"s":"Y"},
{"r":"0","c":"l25","v":"trc","e":"Apx.","m":0.34,"lo":0.19,"hi":0.52,"s":"Y"},
{"r":"0","c":"l25","v":"trc","e":"AC","m":0.30,"lo":0.17,"hi":0.42,"s":"Y"},
{"r":"0","c":"l50","v":"x1","e":"Apx.","m":0.18,"lo":0.16,"hi":0.20,"s":"Y","q":"QDr: 27/2000"},
{"r":"0","c":"l50","v":"x1","e":"AC","m":0.17,"lo":0.15,"hi":0.19,"s":"Y"},
{"r":"0","c":"l50","v":"x2","e":"Apx.","m":0.46,"lo":0.33,"hi":0.68,"s":"Y"},
{"r":"0","c":"l50","v":"x2","e":"AC","m":0.46,"lo":0.33,"hi":0.68,"s":"Y"},
{"r":"0","c":"l50","v":"ltx2","e":"Apx.","m":0.58,"lo":0.36,"hi":1.02,"s":"Y"},
{"r":"0","c":"l50","v":"ltx2","e":"AC","m":0.58,"lo":0.36,"hi":1.02,"s":"Y"},
{"r":"0","c":"l50","v":"trc","e":"Apx.","m":0.66,"lo":0.27,"hi":1.57,"s":"Y"},
{"r":"0","c":"l50","v":"trc","e":"AC","m":0.60,"lo":0.24,"hi":1.53,"s":"Y"},
{"r":"0.35","c":"n0","v":"x1","e":"Apx.","m":0.17,"lo":0.14,"hi":0.20,"s":"Y","q":"QDr: 37/2000"},
{"r":"0.35","c":"n0","v":"x1","e":"AC","m":0.12,"lo":0.10,"hi":0.14,"s":"Y"},
{"r":"0.35","c":"n0","v":"x2","e":"Apx.","m":0.41,"lo":0.31,"hi":0.54,"s":"Y"},
{"r":"0.35","c":"n0","v":"x2","e":"AC","m":0.40,"lo":0.31,"hi":0.53,"s":"Y"},
{"r":"0.35","c":"n0","v":"ltx2","e":"Apx.","m":0.34,"lo":0.24,"hi":0.41,"s":"Y"},
{"r":"0.35","c":"n0","v":"ltx2","e":"AC","m":0.32,"lo":0.24,"hi":0.40,"s":"Y"},
{"r":"0.35","c":"n0","v":"trc","e":"Apx.","m":0.34,"lo":0.18,"hi":0.53,"s":"Y"},
{"r":"0.35","c":"n0","v":"trc","e":"AC","m":0.28,"lo":0.15,"hi":0.43,"s":"Y"},
{"r":"0.35","c":"r25","v":"x1","e":"Apx.","m":0.20,"lo":0.17,"hi":0.24,"s":"Y","q":"QDr: 39/2000"},
{"r":"0.35","c":"r25","v":"x1","e":"AC","m":0.14,"lo":0.12,"hi":0.16,"s":"Y"},
{"r":"0.35","c":"r25","v":"x2","e":"Apx.","m":0.48,"lo":0.34,"hi":0.65,"s":"N"},
{"r":"0.35","c":"r25","v":"x2","e":"AC","m":0.48,"lo":0.34,"hi":0.64,"s":"N"},
{"r":"0.35","c":"r25","v":"ltx2","e":"Apx.","m":0.40,"lo":0.27,"hi":0.53,"s":"Y"},
{"r":"0.35","c":"r25","v":"ltx2","e":"AC","m":0.38,"lo":0.27,"hi":0.52,"s":"Y"},
{"r":"0.35","c":"r25","v":"trc","e":"Apx.","m":0.45,"lo":0.21,"hi":0.81,"s":"Y"},
{"r":"0.35","c":"r25","v":"trc","e":"AC","m":0.37,"lo":0.18,"hi":0.70,"s":"Y"},
{"r":"0.35","c":"r50","v":"x1","e":"Apx.","m":0.24,"lo":0.19,"hi":0.30,"s":"Y","q":"QDr: 29/2000"},
{"r":"0.35","c":"r50","v":"x1","e":"AC","m":0.18,"lo":0.16,"hi":0.20,"s":"Y"},
{"r":"0.35","c":"r50","v":"x2","e":"Apx.","m":0.61,"lo":0.39,"hi":0.97,"s":"N"},
{"r":"0.35","c":"r50","v":"x2","e":"AC","m":0.59,"lo":0.39,"hi":0.95,"s":"N"},
{"r":"0.35","c":"r50","v":"ltx2","e":"Apx.","m":0.51,"lo":0.34,"hi":0.72,"s":"N"},
{"r":"0.35","c":"r50","v":"ltx2","e":"AC","m":0.49,"lo":0.33,"hi":0.70,"s":"N"},
{"r":"0.35","c":"r50","v":"trc","e":"Apx.","m":0.76,"lo":0.31,"hi":1.38,"s":"Y"},
{"r":"0.35","c":"r50","v":"trc","e":"AC","m":0.65,"lo":0.27,"hi":1.23,"s":"Y"},
{"r":"0.35","c":"l25","v":"x1","e":"Apx.","m":0.18,"lo":0.15,"hi":0.22,"s":"Y","q":"QDr: 37/2000"},
{"r":"0.35","c":"l25","v":"x1","e":"AC","m":0.13,"lo":0.11,"hi":0.15,"s":"Y"},
{"r":"0.35","c":"l25","v":"x2","e":"Apx.","m":0.42,"lo":0.29,"hi":0.58,"s":"Y"},
{"r":"0.35","c":"l25","v":"x2","e":"AC","m":0.41,"lo":0.29,"hi":0.57,"s":"Y"},
{"r":"0.35","c":"l25","v":"ltx2","e":"Apx.","m":0.39,"lo":0.27,"hi":0.53,"s":"Y"},
{"r":"0.35","c":"l25","v":"ltx2","e":"AC","m":0.36,"lo":0.25,"hi":0.50,"s":"Y"},
{"r":"0.35","c":"l25","v":"trc","e":"Apx.","m":0.38,"lo":0.18,"hi":0.90,"s":"Y"},
{"r":"0.35","c":"l25","v":"trc","e":"AC","m":0.31,"lo":0.15,"hi":0.72,"s":"Y"},
{"r":"0.35","c":"l50","v":"x1","e":"Apx.","m":0.19,"lo":0.16,"hi":0.30,"s":"Y","q":"QDr: 37/2000"},
{"r":"0.35","c":"l50","v":"x1","e":"AC","m":0.14,"lo":0.12,"hi":0.16,"s":"Y"},
{"r":"0.35","c":"l50","v":"x2","e":"Apx.","m":0.45,"lo":0.29,"hi":0.68,"s":"Y"},
{"r":"0.35","c":"l50","v":"x2","e":"AC","m":0.45,"lo":0.29,"hi":0.68,"s":"Y"},
{"r":"0.35","c":"l50","v":"ltx2","e":"Apx.","m":0.54,"lo":0.31,"hi":0.89,"s":"Y"},
{"r":"0.35","c":"l50","v":"ltx2","e":"AC","m":0.51,"lo":0.29,"hi":0.89,"s":"Y"},
{"r":"0.35","c":"l50","v":"trc","e":"Apx.","m":0.60,"lo":0.29,"hi":1.31,"s":"Y"},
{"r":"0.35","c":"l50","v":"trc","e":"AC","m":0.50,"lo":0.25,"hi":1.26,"s":"Y"},
{"r":"0.65","c":"n0","v":"x1","e":"Apx.","m":0.22,"lo":0.19,"hi":0.25,"s":"Y","q":"QDr: 46/2000"},
{"r":"0.65","c":"n0","v":"x1","e":"AC","m":0.16,"lo":0.14,"hi":0.18,"s":"Y"},
{"r":"0.65","c":"n0","v":"x2","e":"Apx.","m":0.49,"lo":0.39,"hi":0.61,"s":"Y"},
{"r":"0.65","c":"n0","v":"x2","e":"AC","m":0.45,"lo":0.36,"hi":0.56,"s":"Y"},
{"r":"0.65","c":"n0","v":"ltx2","e":"Apx.","m":0.39,"lo":0.29,"hi":0.49,"s":"Y"},
{"r":"0.65","c":"n0","v":"ltx2","e":"AC","m":0.33,"lo":0.23,"hi":0.43,"s":"Y"},
{"r":"0.65","c":"n0","v":"trc","e":"Apx.","m":0.46,"lo":0.28,"hi":0.68,"s":"Y"},
{"r":"0.65","c":"n0","v":"trc","e":"AC","m":0.33,"lo":0.20,"hi":0.48,"s":"Y"},
{"r":"0.65","c":"r25","v":"x1","e":"Apx.","m":0.25,"lo":0.22,"hi":0.28,"s":"Y","q":"QDr: 39/2000"},
{"r":"0.65","c":"r25","v":"x1","e":"AC","m":0.18,"lo":0.16,"hi":0.20,"s":"Y"},
{"r":"0.65","c":"r25","v":"x2","e":"Apx.","m":0.58,"lo":0.45,"hi":0.71,"s":"Y"},
{"r":"0.65","c":"r25","v":"x2","e":"AC","m":0.51,"lo":0.41,"hi":0.62,"s":"Y"},
{"r":"0.65","c":"r25","v":"ltx2","e":"Apx.","m":0.46,"lo":0.36,"hi":0.57,"s":"Y"},
{"r":"0.65","c":"r25","v":"ltx2","e":"AC","m":0.39,"lo":0.28,"hi":0.49,"s":"Y"},
{"r":"0.65","c":"r25","v":"trc","e":"Apx.","m":0.64,"lo":0.42,"hi":0.92,"s":"Y"},
{"r":"0.65","c":"r25","v":"trc","e":"AC","m":0.42,"lo":0.26,"hi":0.62,"s":"Y"},
{"r":"0.65","c":"r50","v":"x1","e":"Apx.","m":0.34,"lo":0.24,"hi":0.48,"s":"Y","q":"QDr: 28/2000"},
{"r":"0.65","c":"r50","v":"x1","e":"AC","m":0.22,"lo":0.20,"hi":0.24,"s":"Y"},
{"r":"0.65","c":"r50","v":"x2","e":"Apx.","m":0.75,"lo":0.50,"hi":1.28,"s":"Y"},
{"r":"0.65","c":"r50","v":"x2","e":"AC","m":0.66,"lo":0.45,"hi":1.04,"s":"Y"},
{"r":"0.65","c":"r50","v":"ltx2","e":"Apx.","m":0.60,"lo":0.40,"hi":0.96,"s":"Y"},
{"r":"0.65","c":"r50","v":"ltx2","e":"AC","m":0.50,"lo":0.34,"hi":0.72,"s":"Y"},
{"r":"0.65","c":"r50","v":"trc","e":"Apx.","m":1.12,"lo":0.50,"hi":2.1,"s":"Y"},
{"r":"0.65","c":"r50","v":"trc","e":"AC","m":0.74,"lo":0.35,"hi":1.64,"s":"Y"},
{"r":"0.65","c":"l25","v":"x1","e":"Apx.","m":0.21,"lo":0.18,"hi":0.27,"s":"Y","q":"QDr: 45/2000"},
{"r":"0.65","c":"l25","v":"x1","e":"AC","m":0.16,"lo":0.14,"hi":0.18,"s":"Y"},
{"r":"0.65","c":"l25","v":"x2","e":"Apx.","m":0.51,"lo":0.41,"hi":0.62,"s":"Y"},
{"r":"0.65","c":"l25","v":"x2","e":"AC","m":0.46,"lo":0.37,"hi":0.58,"s":"Y"},
{"r":"0.65","c":"l25","v":"ltx2","e":"Apx.","m":0.46,"lo":0.34,"hi":0.59,"s":"Y"},
{"r":"0.65","c":"l25","v":"ltx2","e":"AC","m":0.36,"lo":0.26,"hi":0.49,"s":"Y"},
{"r":"0.65","c":"l25","v":"trc","e":"Apx.","m":0.58,"lo":0.39,"hi":0.96,"s":"Y"},
{"r":"0.65","c":"l25","v":"trc","e":"AC","m":0.37,"lo":0.23,"hi":0.55,"s":"Y"},
{"r":"0.65","c":"l50","v":"x1","e":"Apx.","m":0.24,"lo":0.17,"hi":0.42,"s":"Y","q":"QDr: 47/2000"},
{"r":"0.65","c":"l50","v":"x1","e":"AC","m":0.20,"lo":0.18,"hi":0.22,"s":"Y"},
{"r":"0.65","c":"l50","v":"x2","e":"Apx.","m":0.54,"lo":0.41,"hi":0.78,"s":"Y"},
{"r":"0.65","c":"l50","v":"x2","e":"AC","m":0.51,"lo":0.39,"hi":0.65,"s":"Y"},
{"r":"0.65","c":"l50","v":"ltx2","e":"Apx.","m":0.65,"lo":0.41,"hi":1.01,"s":"Y"},
{"r":"0.65","c":"l50","v":"ltx2","e":"AC","m":0.52,"lo":0.34,"hi":0.72,"s":"Y"},
{"r":"0.65","c":"l50","v":"trc","e":"Apx.","m":0.87,"lo":0.53,"hi":1.74,"s":"Y"},
{"r":"0.65","c":"l50","v":"trc","e":"AC","m":0.58,"lo":0.34,"hi":0.89,"s":"Y"}
]
},
"hconcat": [
{
  "vconcat": [
    {
      "vconcat": [
        {"hconcat": [
          {"width": 15, "height": 23, "data": {"values": [{"t": ""}]}, "mark": {"type": "text"}, "encoding": {"text": {"field": "t"}}},
          {"hconcat": [
            {"width": 88, "height": 23, "view": {"fill": "#d9d9d9", "stroke": null}, "data": {"values": [{"lab": "No RC"}]}, "mark": {"type": "text", "fontSize": 13, "color": "#1a1a1a"}, "encoding": {"text": {"field": "lab"}}},
            {"width": 184, "height": 23, "view": {"fill": "#d9d9d9", "stroke": null}, "data": {"values": [{"lab": "Random RC"}]}, "mark": {"type": "text", "fontSize": 13, "color": "#1a1a1a"}, "encoding": {"text": {"field": "lab"}}},
            {"width": 184, "height": 23, "view": {"fill": "#d9d9d9", "stroke": null}, "data": {"values": [{"lab": "Largest X% RC"}]}, "mark": {"type": "text", "fontSize": 13, "color": "#1a1a1a"}, "encoding": {"text": {"field": "lab"}}}
          ], "spacing": 8,
          "title": {"text": "Shape (p) = 1, n = 100", "subtitle": ["Final Specification: Apx. Correct,", "AC Wrongly Includes ln(t)x₁"], "anchor": "middle", "fontSize": 18, "fontWeight": "bold", "subtitleFontSize": 15.5, "subtitleFontWeight": "bold", "subtitleLineHeight": 16, "subtitlePadding": 2, "offset": 8}}
        ], "spacing": 8},
        {"hconcat": [
          {"width": 15, "height": 22, "data": {"values": [{"t": ""}]}, "mark": {"type": "text"}, "encoding": {"text": {"field": "t"}}},
          {"width": 88, "height": 22, "view": {"fill": "#d9d9d9", "stroke": null}, "data": {"values": [{"lab": "0%"}]}, "mark": {"type": "text", "fontSize": 13, "color": "#1a1a1a"}, "encoding": {"text": {"field": "lab"}}},
          {"width": 88, "height": 22, "view": {"fill": "#d9d9d9", "stroke": null}, "data": {"values": [{"lab": "25%"}]}, "mark": {"type": "text", "fontSize": 13, "color": "#1a1a1a"}, "encoding": {"text": {"field": "lab"}}},
          {"width": 88, "height": 22, "view": {"fill": "#d9d9d9", "stroke": null}, "data": {"values": [{"lab": "50%"}]}, "mark": {"type": "text", "fontSize": 13, "color": "#1a1a1a"}, "encoding": {"text": {"field": "lab"}}},
          {"width": 88, "height": 22, "view": {"fill": "#d9d9d9", "stroke": null}, "data": {"values": [{"lab": "25%"}]}, "mark": {"type": "text", "fontSize": 13, "color": "#1a1a1a"}, "encoding": {"text": {"field": "lab"}}},
          {"width": 88, "height": 22, "view": {"fill": "#d9d9d9", "stroke": null}, "data": {"values": [{"lab": "50%"}]}, "mark": {"type": "text", "fontSize": 13, "color": "#1a1a1a"}, "encoding": {"text": {"field": "lab"}}}
        ], "spacing": 8}
      ],
      "spacing": 0
    },
    {
      "hconcat": [
        {
          "vconcat": [
            {"width": 23, "height": 107, "view": {"fill": "#d9d9d9", "stroke": null}, "data": {"values": [{"lab": "-0.65"}]}, "mark": {"type": "text", "angle": 270, "fontSize": 12.5, "color": "#1a1a1a"}, "encoding": {"text": {"field": "lab"}}},
            {"width": 23, "height": 107, "view": {"fill": "#d9d9d9", "stroke": null}, "data": {"values": [{"lab": "-0.35"}]}, "mark": {"type": "text", "angle": 270, "fontSize": 12.5, "color": "#1a1a1a"}, "encoding": {"text": {"field": "lab"}}},
            {"width": 23, "height": 107, "view": {"fill": "#d9d9d9", "stroke": null}, "data": {"values": [{"lab": "0"}]}, "mark": {"type": "text", "angle": 270, "fontSize": 12.5, "color": "#1a1a1a"}, "encoding": {"text": {"field": "lab"}}},
            {"width": 23, "height": 107, "view": {"fill": "#d9d9d9", "stroke": null}, "data": {"values": [{"lab": "0.35"}]}, "mark": {"type": "text", "angle": 270, "fontSize": 12.5, "color": "#1a1a1a"}, "encoding": {"text": {"field": "lab"}}},
            {"width": 23, "height": 107, "view": {"fill": "#d9d9d9", "stroke": null}, "data": {"values": [{"lab": "0.65"}]}, "mark": {"type": "text", "angle": 270, "fontSize": 12.5, "color": "#1a1a1a"}, "encoding": {"text": {"field": "lab"}}}
          ],
          "spacing": 9,
          "title": {"text": "Corr(x₁,x₂)", "orient": "left", "anchor": "middle", "fontSize": 14, "fontWeight": "normal", "offset": 10}
        },
        {
          "hconcat": [
        {
          "data": {"name": "L"},
          "facet": {
            "row": {"field": "r", "type": "nominal", "sort": ["-0.65", "-0.35", "0", "0.35", "0.65"], "header": {"labels": false, "title": null, "labelPadding": 0, "titlePadding": 0}},
            "column": {"field": "c", "type": "nominal", "sort": ["n0", "r25", "r50", "l25", "l50"], "header": {"labels": false, "title": null, "labelPadding": 0, "titlePadding": 0}}
          },
          "spacing": {"row": 9, "column": 8},
          "bounds": "flush",
          "title": {"text": "mean(Estm. SE)", "orient": "right", "anchor": "middle", "fontSize": 14, "fontWeight": "normal", "offset": 8},
          "spec": {
            "width": 88, "height": 107,
            "view": {"stroke": "#333333", "strokeWidth": 1},
            "layer": [
              {"transform": [{"filter": "datum.v == 'x1' && datum.e == 'Apx.'"}],
               "mark": {"type": "rule", "color": "black", "strokeWidth": 2},
               "encoding": {"y": {"datum": 0, "type": "quantitative", "scale": {"domain": [-0.05, 1.3], "nice": false, "zero": false, "clamp": true},
                 "axis": {"orient": "right", "title": null, "values": [0, 0.25, 0.5, 0.75, 1, 1.25], "format": ".2f", "grid": false, "domain": false, "tickSize": 3, "tickColor": "#333333", "labelColor": "#4d4d4d", "labelFontSize": 12.5, "labelPadding": 2}}}},
              {"transform": [{"filter": "datum.v == 'x1' && datum.e == 'Apx.'"}],
               "mark": {"type": "rule", "color": "#7f7f7f", "strokeWidth": 1.1, "strokeDash": [4, 3.5]},
               "encoding": {"x": {"datum": "trc", "type": "nominal", "bandPosition": 0, "scale": {"domain": ["x1", "x2", "ltx2", "trc"], "paddingInner": 0, "paddingOuter": 0.08},
                 "axis": {"title": null, "labelAngle": 0, "labelFontSize": 11, "labelColor": "#4d4d4d", "tickColor": "#333333", "tickSize": 3, "domain": false, "grid": false, "labelPadding": 2, "labelOverlap": false, "bandPosition": 0.5, "labelExpr": "datum.value == 'x1' ? 'x₁' : datum.value == 'x2' ? 'x₂' : datum.value == 'ltx2' ? 'ln(t)x₂' : 'trc.'"}}}},
              {"mark": {"type": "rule", "strokeWidth": 1.6},
               "encoding": {
                 "x": {"field": "v", "type": "nominal", "scale": {"domain": ["x1", "x2", "ltx2", "trc"], "paddingInner": 0, "paddingOuter": 0.08},
                   "axis": {"title": null, "labelAngle": 0, "labelFontSize": 11, "labelColor": "#4d4d4d", "tickColor": "#333333", "tickSize": 3, "domain": false, "grid": false, "labelPadding": 2, "labelOverlap": false, "bandPosition": 0.5, "labelExpr": "datum.value == 'x1' ? 'x₁' : datum.value == 'x2' ? 'x₂' : datum.value == 'ltx2' ? 'ln(t)x₂' : 'trc.'"}},
                 "xOffset": {"field": "e", "type": "nominal", "scale": {"domain": ["Apx.", "AC"], "paddingInner": 0, "paddingOuter": 0.55}},
                 "y": {"field": "lo", "type": "quantitative", "scale": {"domain": [-0.05, 1.3], "nice": false, "zero": false, "clamp": true},
                   "axis": {"orient": "right", "title": null, "values": [0, 0.25, 0.5, 0.75, 1, 1.25], "format": ".2f", "grid": false, "domain": false, "tickSize": 3, "tickColor": "#333333", "labelColor": "#4d4d4d", "labelFontSize": 12.5, "labelPadding": 2}},
                 "y2": {"field": "hi"},
                 "color": {"field": "s", "type": "nominal", "scale": {"domain": ["Y", "N"], "range": ["#333333", "#999999"]}}}},
              {"transform": [{"filter": "datum.hi > 1.3"}],
               "mark": {"type": "point", "shape": "M0,0L-1,2L1,2Z", "filled": true, "size": 25, "opacity": 1},
               "encoding": {
                 "x": {"field": "v", "type": "nominal", "scale": {"domain": ["x1", "x2", "ltx2", "trc"], "paddingInner": 0, "paddingOuter": 0.08},
                   "axis": {"title": null, "labelAngle": 0, "labelFontSize": 11, "labelColor": "#4d4d4d", "tickColor": "#333333", "tickSize": 3, "domain": false, "grid": false, "labelPadding": 2, "labelOverlap": false, "bandPosition": 0.5, "labelExpr": "datum.value == 'x1' ? 'x₁' : datum.value == 'x2' ? 'x₂' : datum.value == 'ltx2' ? 'ln(t)x₂' : 'trc.'"}},
                 "xOffset": {"field": "e", "type": "nominal", "scale": {"domain": ["Apx.", "AC"], "paddingInner": 0, "paddingOuter": 0.55}},
                 "y": {"field": "hi", "type": "quantitative", "scale": {"domain": [-0.05, 1.3], "nice": false, "zero": false, "clamp": true},
                   "axis": {"orient": "right", "title": null, "values": [0, 0.25, 0.5, 0.75, 1, 1.25], "format": ".2f", "grid": false, "domain": false, "tickSize": 3, "tickColor": "#333333", "labelColor": "#4d4d4d", "labelFontSize": 12.5, "labelPadding": 2}},
                 "color": {"field": "s", "type": "nominal", "scale": {"domain": ["Y", "N"], "range": ["#333333", "#999999"]}}}},
              {"mark": {"type": "point", "filled": false, "fill": "white", "strokeWidth": 1.3, "size": 32, "opacity": 1},
               "encoding": {
                 "x": {"field": "v", "type": "nominal", "scale": {"domain": ["x1", "x2", "ltx2", "trc"], "paddingInner": 0, "paddingOuter": 0.08},
                   "axis": {"title": null, "labelAngle": 0, "labelFontSize": 11, "labelColor": "#4d4d4d", "tickColor": "#333333", "tickSize": 3, "domain": false, "grid": false, "labelPadding": 2, "labelOverlap": false, "bandPosition": 0.5, "labelExpr": "datum.value == 'x1' ? 'x₁' : datum.value == 'x2' ? 'x₂' : datum.value == 'ltx2' ? 'ln(t)x₂' : 'trc.'"}},
                 "xOffset": {"field": "e", "type": "nominal", "scale": {"domain": ["Apx.", "AC"], "paddingInner": 0, "paddingOuter": 0.55}},
                 "y": {"field": "m", "type": "quantitative", "scale": {"domain": [-0.05, 1.3], "nice": false, "zero": false, "clamp": true},
                   "axis": {"orient": "right", "title": null, "values": [0, 0.25, 0.5, 0.75, 1, 1.25], "format": ".2f", "grid": false, "domain": false, "tickSize": 3, "tickColor": "#333333", "labelColor": "#4d4d4d", "labelFontSize": 12.5, "labelPadding": 2}},
                 "color": {"field": "s", "type": "nominal", "scale": {"domain": ["Y", "N"], "range": ["#333333", "#999999"]},
                           "legend": {"title": "DiD: SS?", "orient": "none", "legendX": 544, "legendY": 168, "direction": "horizontal", "symbolType": "square", "symbolSize": 484, "symbolStrokeWidth": 0, "labelFontSize": 15, "labelColor": "black", "labelOffset": 6, "columnPadding": 9, "titleFontSize": 15, "titleFontWeight": "normal", "titleColor": "black", "titlePadding": 8, "titleAnchor": "middle",
                                      "encode": {"symbols": {"fill": {"condition": {"test": "datum.value == 'Y'", "value": "#333333"}, "value": "#999999"}, "stroke": {"value": "transparent"}, "opacity": {"value": 1}}}}},
                 "shape": {"field": "e", "type": "nominal", "scale": {"domain": ["Apx.", "AC"], "range": ["circle", "triangle-up"]}, "legend": null}}},
              {"transform": [{"filter": "datum.v == 'x1' && datum.e == 'Apx.'"}],
               "mark": {"type": "text", "align": "left", "baseline": "top", "fontSize": 7, "dx": -1.2, "dy": 1.5, "color": "black"},
               "encoding": {
                 "x": {"datum": "x1", "type": "nominal", "bandPosition": 0, "scale": {"domain": ["x1", "x2", "ltx2", "trc"], "paddingInner": 0, "paddingOuter": 0.08},
                   "axis": {"title": null, "labelAngle": 0, "labelFontSize": 11, "labelColor": "#4d4d4d", "tickColor": "#333333", "tickSize": 3, "domain": false, "grid": false, "labelPadding": 2, "labelOverlap": false, "bandPosition": 0.5, "labelExpr": "datum.value == 'x1' ? 'x₁' : datum.value == 'x2' ? 'x₂' : datum.value == 'ltx2' ? 'ln(t)x₂' : 'trc.'"}},
                 "y": {"datum": 1.3, "type": "quantitative", "scale": {"domain": [-0.05, 1.3], "nice": false, "zero": false, "clamp": true},
                   "axis": {"orient": "right", "title": null, "values": [0, 0.25, 0.5, 0.75, 1, 1.25], "format": ".2f", "grid": false, "domain": false, "tickSize": 3, "tickColor": "#333333", "labelColor": "#4d4d4d", "labelFontSize": 12.5, "labelPadding": 2}},
                 "text": {"field": "q"}}}
            ]
          }
        },
        {
          "vconcat": [
            {"width": 1, "height": 33, "data": {"values": [{"t": ""}]}, "mark": {"type": "text"}, "encoding": {"text": {"field": "t"}}},
            {"width": 25, "height": 55, "view": {"fill": "#efefef", "stroke": null},
             "data": {"values": [{"e": "Apx."}, {"e": "AC"}]},
             "encoding": {"y": {"field": "e", "type": "nominal", "sort": ["Apx.", "AC"], "scale": {"paddingInner": 0, "paddingOuter": 0},
               "axis": {"orient": "right", "title": null, "ticks": false, "domain": false, "grid": false, "labelFontSize": 13, "labelColor": "black", "labelPadding": 6}}},
             "layer": [
               {"mark": {"type": "tick", "orient": "vertical", "size": 20, "thickness": 1.5, "color": "#1a1a1a", "opacity": 1}},
               {"mark": {"type": "point", "filled": true, "fill": "white", "stroke": "#1a1a1a", "strokeWidth": 1.3, "size": 45, "opacity": 1},
                "encoding": {"shape": {"field": "e", "type": "nominal", "scale": {"domain": ["Apx.", "AC"], "range": ["circle", "triangle-up"]}, "legend": null}}}
             ]}
          ],
          "spacing": 0
        }
          ],
          "spacing": -15
        }
      ],
      "spacing": 0,
      "title": {"text": ["QDr = qualifying draws, given specified criteria + panel", "Apx.: approximation, AC: actual calculation", "95% CIs reported; SS: statistically significant", "DiD: for covariate, apx. vs. AC estimates differ from one another"], "orient": "bottom", "anchor": "start", "frame": "group", "fontSize": 11, "fontWeight": "normal", "lineHeight": 10.5, "offset": 6, "dx": -4}
    }
  ],
  "spacing": 0
},
{
  "vconcat": [
    {
      "vconcat": [
        {"hconcat": [
          {"width": 16, "height": 23, "data": {"values": [{"t": ""}]}, "mark": {"type": "text"}, "encoding": {"text": {"field": "t"}}},
          {"hconcat": [
            {"width": 90, "height": 23, "view": {"fill": "#d9d9d9", "stroke": null}, "data": {"values": [{"lab": "No RC"}]}, "mark": {"type": "text", "fontSize": 13, "color": "#1a1a1a"}, "encoding": {"text": {"field": "lab"}}},
            {"width": 188, "height": 23, "view": {"fill": "#d9d9d9", "stroke": null}, "data": {"values": [{"lab": "Random RC"}]}, "mark": {"type": "text", "fontSize": 13, "color": "#1a1a1a"}, "encoding": {"text": {"field": "lab"}}},
            {"width": 188, "height": 23, "view": {"fill": "#d9d9d9", "stroke": null}, "data": {"values": [{"lab": "Largest X% RC"}]}, "mark": {"type": "text", "fontSize": 13, "color": "#1a1a1a"}, "encoding": {"text": {"field": "lab"}}}
          ], "spacing": 8,
          "title": {"text": "Shape (p) = 1, n = 100", "subtitle": ["Final Specification: Apx. Wrongly Includes ln(t)x₁,", "AC Correct"], "anchor": "middle", "fontSize": 18, "fontWeight": "bold", "subtitleFontSize": 15.5, "subtitleFontWeight": "bold", "subtitleLineHeight": 16, "subtitlePadding": 2, "offset": 8}}
        ], "spacing": 8},
        {"hconcat": [
          {"width": 16, "height": 22, "data": {"values": [{"t": ""}]}, "mark": {"type": "text"}, "encoding": {"text": {"field": "t"}}},
          {"width": 90, "height": 22, "view": {"fill": "#d9d9d9", "stroke": null}, "data": {"values": [{"lab": "0%"}]}, "mark": {"type": "text", "fontSize": 13, "color": "#1a1a1a"}, "encoding": {"text": {"field": "lab"}}},
          {"width": 90, "height": 22, "view": {"fill": "#d9d9d9", "stroke": null}, "data": {"values": [{"lab": "25%"}]}, "mark": {"type": "text", "fontSize": 13, "color": "#1a1a1a"}, "encoding": {"text": {"field": "lab"}}},
          {"width": 90, "height": 22, "view": {"fill": "#d9d9d9", "stroke": null}, "data": {"values": [{"lab": "50%"}]}, "mark": {"type": "text", "fontSize": 13, "color": "#1a1a1a"}, "encoding": {"text": {"field": "lab"}}},
          {"width": 90, "height": 22, "view": {"fill": "#d9d9d9", "stroke": null}, "data": {"values": [{"lab": "25%"}]}, "mark": {"type": "text", "fontSize": 13, "color": "#1a1a1a"}, "encoding": {"text": {"field": "lab"}}},
          {"width": 90, "height": 22, "view": {"fill": "#d9d9d9", "stroke": null}, "data": {"values": [{"lab": "50%"}]}, "mark": {"type": "text", "fontSize": 13, "color": "#1a1a1a"}, "encoding": {"text": {"field": "lab"}}}
        ], "spacing": 8}
      ],
      "spacing": 0
    },
    {
      "hconcat": [
        {
          "vconcat": [
            {"width": 24, "height": 107, "view": {"fill": "#d9d9d9", "stroke": null}, "data": {"values": [{"lab": "-0.65"}]}, "mark": {"type": "text", "angle": 270, "fontSize": 12.5, "color": "#1a1a1a"}, "encoding": {"text": {"field": "lab"}}},
            {"width": 24, "height": 107, "view": {"fill": "#d9d9d9", "stroke": null}, "data": {"values": [{"lab": "-0.35"}]}, "mark": {"type": "text", "angle": 270, "fontSize": 12.5, "color": "#1a1a1a"}, "encoding": {"text": {"field": "lab"}}},
            {"width": 24, "height": 107, "view": {"fill": "#d9d9d9", "stroke": null}, "data": {"values": [{"lab": "0"}]}, "mark": {"type": "text", "angle": 270, "fontSize": 12.5, "color": "#1a1a1a"}, "encoding": {"text": {"field": "lab"}}},
            {"width": 24, "height": 107, "view": {"fill": "#d9d9d9", "stroke": null}, "data": {"values": [{"lab": "0.35"}]}, "mark": {"type": "text", "angle": 270, "fontSize": 12.5, "color": "#1a1a1a"}, "encoding": {"text": {"field": "lab"}}},
            {"width": 24, "height": 107, "view": {"fill": "#d9d9d9", "stroke": null}, "data": {"values": [{"lab": "0.65"}]}, "mark": {"type": "text", "angle": 270, "fontSize": 12.5, "color": "#1a1a1a"}, "encoding": {"text": {"field": "lab"}}}
          ],
          "spacing": 9,
          "title": {"text": "Corr(x₁,x₂)", "orient": "left", "anchor": "middle", "fontSize": 14, "fontWeight": "normal", "offset": 10}
        },
        {
          "hconcat": [
        {
          "data": {"name": "R"},
          "facet": {
            "row": {"field": "r", "type": "nominal", "sort": ["-0.65", "-0.35", "0", "0.35", "0.65"], "header": {"labels": false, "title": null, "labelPadding": 0, "titlePadding": 0}},
            "column": {"field": "c", "type": "nominal", "sort": ["n0", "r25", "r50", "l25", "l50"], "header": {"labels": false, "title": null, "labelPadding": 0, "titlePadding": 0}}
          },
          "spacing": {"row": 9, "column": 8},
          "bounds": "flush",
          "title": {"text": "mean(Estm. SE)", "orient": "right", "anchor": "middle", "fontSize": 14, "fontWeight": "normal", "offset": 8},
          "spec": {
            "width": 90, "height": 107,
            "view": {"stroke": "#333333", "strokeWidth": 1},
            "layer": [
              {"transform": [{"filter": "datum.v == 'x1' && datum.e == 'Apx.'"}],
               "mark": {"type": "rule", "color": "black", "strokeWidth": 2},
               "encoding": {"y": {"datum": 0, "type": "quantitative", "scale": {"domain": [-0.076, 1.94], "nice": false, "zero": false, "clamp": true},
                 "axis": {"orient": "right", "title": null, "values": [0, 0.5, 1, 1.5], "format": ".1f", "grid": false, "domain": false, "tickSize": 3, "tickColor": "#333333", "labelColor": "#4d4d4d", "labelFontSize": 12.5, "labelPadding": 2}}}},
              {"transform": [{"filter": "datum.v == 'x1' && datum.e == 'Apx.'"}],
               "mark": {"type": "rule", "color": "#7f7f7f", "strokeWidth": 1.1, "strokeDash": [4, 3.5]},
               "encoding": {"x": {"datum": "trc", "type": "nominal", "bandPosition": 0, "scale": {"domain": ["x1", "x2", "ltx2", "trc"], "paddingInner": 0, "paddingOuter": 0.08},
                 "axis": {"title": null, "labelAngle": 0, "labelFontSize": 11, "labelColor": "#4d4d4d", "tickColor": "#333333", "tickSize": 3, "domain": false, "grid": false, "labelPadding": 2, "labelOverlap": false, "bandPosition": 0.5, "labelExpr": "datum.value == 'x1' ? 'x₁' : datum.value == 'x2' ? 'x₂' : datum.value == 'ltx2' ? 'ln(t)x₂' : 'trc.'"}}}},
              {"mark": {"type": "rule", "strokeWidth": 1.6},
               "encoding": {
                 "x": {"field": "v", "type": "nominal", "scale": {"domain": ["x1", "x2", "ltx2", "trc"], "paddingInner": 0, "paddingOuter": 0.08},
                   "axis": {"title": null, "labelAngle": 0, "labelFontSize": 11, "labelColor": "#4d4d4d", "tickColor": "#333333", "tickSize": 3, "domain": false, "grid": false, "labelPadding": 2, "labelOverlap": false, "bandPosition": 0.5, "labelExpr": "datum.value == 'x1' ? 'x₁' : datum.value == 'x2' ? 'x₂' : datum.value == 'ltx2' ? 'ln(t)x₂' : 'trc.'"}},
                 "xOffset": {"field": "e", "type": "nominal", "scale": {"domain": ["Apx.", "AC"], "paddingInner": 0, "paddingOuter": 0.55}},
                 "y": {"field": "lo", "type": "quantitative", "scale": {"domain": [-0.076, 1.94], "nice": false, "zero": false, "clamp": true},
                   "axis": {"orient": "right", "title": null, "values": [0, 0.5, 1, 1.5], "format": ".1f", "grid": false, "domain": false, "tickSize": 3, "tickColor": "#333333", "labelColor": "#4d4d4d", "labelFontSize": 12.5, "labelPadding": 2}},
                 "y2": {"field": "hi"},
                 "color": {"field": "s", "type": "nominal", "scale": {"domain": ["Y", "N"], "range": ["#333333", "#999999"]}}}},
              {"transform": [{"filter": "datum.hi > 1.94"}],
               "mark": {"type": "point", "shape": "M0,0L-1,2L1,2Z", "filled": true, "size": 25, "opacity": 1},
               "encoding": {
                 "x": {"field": "v", "type": "nominal", "scale": {"domain": ["x1", "x2", "ltx2", "trc"], "paddingInner": 0, "paddingOuter": 0.08},
                   "axis": {"title": null, "labelAngle": 0, "labelFontSize": 11, "labelColor": "#4d4d4d", "tickColor": "#333333", "tickSize": 3, "domain": false, "grid": false, "labelPadding": 2, "labelOverlap": false, "bandPosition": 0.5, "labelExpr": "datum.value == 'x1' ? 'x₁' : datum.value == 'x2' ? 'x₂' : datum.value == 'ltx2' ? 'ln(t)x₂' : 'trc.'"}},
                 "xOffset": {"field": "e", "type": "nominal", "scale": {"domain": ["Apx.", "AC"], "paddingInner": 0, "paddingOuter": 0.55}},
                 "y": {"field": "hi", "type": "quantitative", "scale": {"domain": [-0.076, 1.94], "nice": false, "zero": false, "clamp": true},
                   "axis": {"orient": "right", "title": null, "values": [0, 0.5, 1, 1.5], "format": ".1f", "grid": false, "domain": false, "tickSize": 3, "tickColor": "#333333", "labelColor": "#4d4d4d", "labelFontSize": 12.5, "labelPadding": 2}},
                 "color": {"field": "s", "type": "nominal", "scale": {"domain": ["Y", "N"], "range": ["#333333", "#999999"]}}}},
              {"mark": {"type": "point", "filled": false, "fill": "white", "strokeWidth": 1.3, "size": 32, "opacity": 1},
               "encoding": {
                 "x": {"field": "v", "type": "nominal", "scale": {"domain": ["x1", "x2", "ltx2", "trc"], "paddingInner": 0, "paddingOuter": 0.08},
                   "axis": {"title": null, "labelAngle": 0, "labelFontSize": 11, "labelColor": "#4d4d4d", "tickColor": "#333333", "tickSize": 3, "domain": false, "grid": false, "labelPadding": 2, "labelOverlap": false, "bandPosition": 0.5, "labelExpr": "datum.value == 'x1' ? 'x₁' : datum.value == 'x2' ? 'x₂' : datum.value == 'ltx2' ? 'ln(t)x₂' : 'trc.'"}},
                 "xOffset": {"field": "e", "type": "nominal", "scale": {"domain": ["Apx.", "AC"], "paddingInner": 0, "paddingOuter": 0.55}},
                 "y": {"field": "m", "type": "quantitative", "scale": {"domain": [-0.076, 1.94], "nice": false, "zero": false, "clamp": true},
                   "axis": {"orient": "right", "title": null, "values": [0, 0.5, 1, 1.5], "format": ".1f", "grid": false, "domain": false, "tickSize": 3, "tickColor": "#333333", "labelColor": "#4d4d4d", "labelFontSize": 12.5, "labelPadding": 2}},
                 "color": {"field": "s", "type": "nominal", "scale": {"domain": ["Y", "N"], "range": ["#333333", "#999999"]},
                           "legend": {"title": "DiD: SS?", "orient": "none", "legendX": 552, "legendY": 168, "direction": "horizontal", "symbolType": "square", "symbolSize": 484, "symbolStrokeWidth": 0, "labelFontSize": 15, "labelColor": "black", "labelOffset": 6, "columnPadding": 12, "titleFontSize": 15, "titleFontWeight": "normal", "titleColor": "black", "titlePadding": 8, "titleAnchor": "middle",
                                      "encode": {"symbols": {"fill": {"condition": {"test": "datum.value == 'Y'", "value": "#333333"}, "value": "#999999"}, "stroke": {"value": "transparent"}, "opacity": {"value": 1}}}}},
                 "shape": {"field": "e", "type": "nominal", "scale": {"domain": ["Apx.", "AC"], "range": ["circle", "triangle-up"]}, "legend": null}}},
              {"transform": [{"filter": "datum.v == 'x1' && datum.e == 'Apx.'"}],
               "mark": {"type": "text", "align": "left", "baseline": "top", "fontSize": 7, "dx": -1.2, "dy": 1.5, "color": "black"},
               "encoding": {
                 "x": {"datum": "x1", "type": "nominal", "bandPosition": 0, "scale": {"domain": ["x1", "x2", "ltx2", "trc"], "paddingInner": 0, "paddingOuter": 0.08},
                   "axis": {"title": null, "labelAngle": 0, "labelFontSize": 11, "labelColor": "#4d4d4d", "tickColor": "#333333", "tickSize": 3, "domain": false, "grid": false, "labelPadding": 2, "labelOverlap": false, "bandPosition": 0.5, "labelExpr": "datum.value == 'x1' ? 'x₁' : datum.value == 'x2' ? 'x₂' : datum.value == 'ltx2' ? 'ln(t)x₂' : 'trc.'"}},
                 "y": {"datum": 1.94, "type": "quantitative", "scale": {"domain": [-0.076, 1.94], "nice": false, "zero": false, "clamp": true},
                   "axis": {"orient": "right", "title": null, "values": [0, 0.5, 1, 1.5], "format": ".1f", "grid": false, "domain": false, "tickSize": 3, "tickColor": "#333333", "labelColor": "#4d4d4d", "labelFontSize": 12.5, "labelPadding": 2}},
                 "text": {"field": "q"}}}
            ]
          }
        },
        {
          "vconcat": [
            {"width": 1, "height": 33, "data": {"values": [{"t": ""}]}, "mark": {"type": "text"}, "encoding": {"text": {"field": "t"}}},
            {"width": 25, "height": 55, "view": {"fill": "#efefef", "stroke": null},
             "data": {"values": [{"e": "Apx."}, {"e": "AC"}]},
             "encoding": {"y": {"field": "e", "type": "nominal", "sort": ["Apx.", "AC"], "scale": {"paddingInner": 0, "paddingOuter": 0},
               "axis": {"orient": "right", "title": null, "ticks": false, "domain": false, "grid": false, "labelFontSize": 13, "labelColor": "black", "labelPadding": 6}}},
             "layer": [
               {"mark": {"type": "tick", "orient": "vertical", "size": 20, "thickness": 1.5, "color": "#1a1a1a", "opacity": 1}},
               {"mark": {"type": "point", "filled": true, "fill": "white", "stroke": "#1a1a1a", "strokeWidth": 1.3, "size": 45, "opacity": 1},
                "encoding": {"shape": {"field": "e", "type": "nominal", "scale": {"domain": ["Apx.", "AC"], "range": ["circle", "triangle-up"]}, "legend": null}}}
             ]}
          ],
          "spacing": 0
        }
          ],
          "spacing": -7
        }
      ],
      "spacing": 0,
      "title": {"text": ["QDr = qualifying draws, given specified criteria + panel", "Apx.: approximation, AC: actual calculation", "95% CIs reported; SS: statistically significant", "DiD: for covariate, apx. vs. AC estimates differ from one another"], "orient": "bottom", "anchor": "start", "frame": "group", "fontSize": 11, "fontWeight": "normal", "lineHeight": 10.5, "offset": 6, "dx": -4}
    }
  ],
  "spacing": 0
}
],
"spacing": 43,
"resolve": {"scale": {"x": "independent", "y": "independent", "xOffset": "independent", "color": "independent", "shape": "independent"}, "legend": {"color": "independent", "shape": "independent"}}
}
